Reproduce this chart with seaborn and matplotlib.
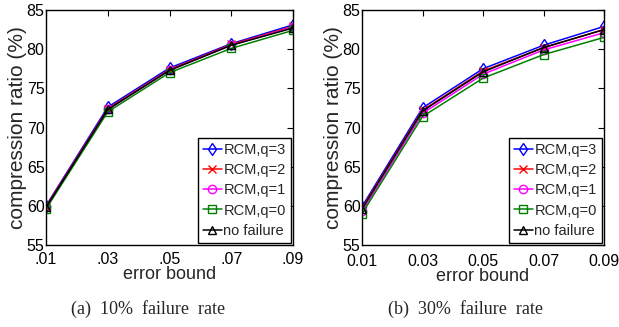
import matplotlib
matplotlib.use("Agg")
import matplotlib.pyplot as plt
import seaborn as sns
import pandas as pd

sns.set_style("white")
plt.rcParams['font.family'] = ['Liberation Sans', 'DejaVu Sans']

error_bound = [0.01, 0.03, 0.05, 0.07, 0.09]
series_names = ["RCM,q=3", "RCM,q=2", "RCM,q=1", "RCM,q=0", "no failure"]

# panel (a) 10% failure rate
a_q3 = [60.0, 72.6, 77.6, 80.7, 83.1]
a_q2 = [59.9, 72.4, 77.4, 80.6, 82.9]
a_q1 = [59.8, 72.3, 77.3, 80.5, 82.8]
a_q0 = [59.6, 72.0, 77.0, 80.1, 82.4]
a_nf = [59.8, 72.3, 77.3, 80.5, 82.7]

# panel (b) 30% failure rate
b_q3 = [59.9, 72.5, 77.5, 80.5, 82.9]
b_q2 = [59.7, 72.2, 77.2, 80.2, 82.5]
b_q1 = [59.3, 71.8, 76.8, 79.9, 82.1]
b_q0 = [59.0, 71.4, 76.3, 79.3, 81.5]
b_nf = [59.6, 72.1, 77.1, 80.2, 82.5]

xtick_labels_a = [".01", ".03", ".05", ".07", ".09"]
xtick_labels_b = ["0.01", "0.03", "0.05", "0.07", "0.09"]
yticks = [55, 60, 65, 70, 75, 80, 85]

colors = ["#0000ff", "#ff0000", "#ff00ff", "#008000", "#000000"]
markers = ["d", "x", "o", "s", "^"]

fig = plt.figure(figsize=(6.19, 3.27), dpi=100)
ax_a = fig.add_axes([46/619, (327-245)/327, 247/619, 235/327])
ax_b = fig.add_axes([362/619, (327-245)/327, 242/619, 235/327])

def draw(ax, data, xlabels, xpad):
    for name, vals, c, m in zip(series_names, data, colors, markers):
        df = pd.DataFrame({"x": error_bound, "y": vals})
        sns.lineplot(data=df, x="x", y="y", ax=ax, color=c, marker=m,
                     markersize=6, markerfacecolor="none", markeredgecolor=c,
                     markeredgewidth=1.0, linewidth=1.1, label=name)
    ax.set_xlim(0.01, 0.09)
    ax.set_ylim(55, 85)
    ax.set_xticks(error_bound)
    ax.set_xticklabels(xlabels)
    ax.set_yticks(yticks)
    ax.tick_params(direction="in", top=True, right=True, length=4, width=0.8,
                   labelsize=11.5, pad=1, colors="black")
    ax.tick_params(axis="x", pad=xpad)
    for s in ax.spines.values():
        s.set_visible(True)
        s.set_color("black")
        s.set_linewidth(1.0)
    ax.set_xlabel("error bound", fontsize=13, labelpad=-0.5)
    ax.set_ylabel("compression ratio (%)", fontsize=15, labelpad=0)
    leg = ax.legend(loc="lower right", fontsize=10.5, handlelength=1.3,
                    handletextpad=0.1, borderpad=0.35, labelspacing=0.42,
                    borderaxespad=0.15, fancybox=False, framealpha=1)
    leg.get_frame().set_edgecolor("black")
    leg.get_frame().set_linewidth(1.0)

draw(ax_a, [a_q3, a_q2, a_q1, a_q0, a_nf], xtick_labels_a, 5)
draw(ax_b, [b_q3, b_q2, b_q1, b_q0, b_nf], xtick_labels_b, 6.5)

fig.text(148/619, 1 - 309/327, "(a)  10%  failure  rate", ha="center", va="center",
         fontsize=13, family=["Liberation Serif"])
fig.text(465/619, 1 - 309/327, "(b)  30%  failure  rate", ha="center", va="center",
         fontsize=13, family=["Liberation Serif"])

fig.savefig("out.png", dpi=100)
